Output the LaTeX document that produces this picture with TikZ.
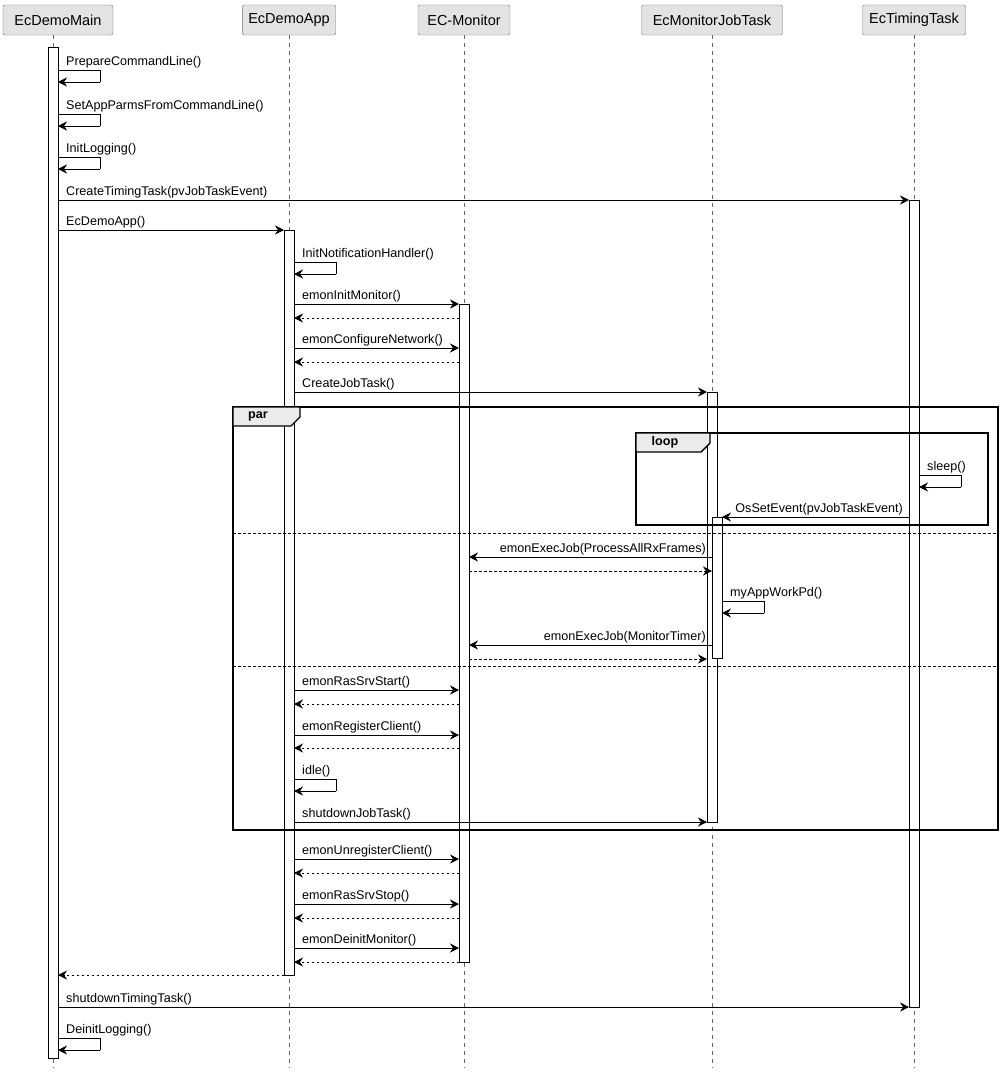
\documentclass[tikz,border=0pt]{standalone}
\usepackage{fontspec}
\setmainfont{Liberation Sans}
\usetikzlibrary{arrows.meta}
\begin{document}
\begin{tikzpicture}[x=1pt,y=-1pt,
  hdr/.style={draw=black!55,fill=black!11,rounded corners=2pt,minimum height=30pt,inner xsep=6pt,font=\fontsize{14.5}{16}\selectfont},
  life/.style={draw=black!60,dash pattern=on 4pt off 4pt,line width=0.6pt},
  bar/.style={draw=black,fill=white,line width=0.7pt},
  msg/.style={-{Stealth[length=9pt,width=9pt,inset=3pt]},line width=0.7pt},
  ret/.style={msg,dash pattern=on 2.5pt off 2.5pt},
  lbl/.style={font=\fontsize{12.6}{14}\selectfont,inner sep=0pt},
  frm/.style={draw=black,line width=1.4pt},
  sep/.style={draw=black,dash pattern=on 2.5pt off 2.5pt,line width=0.6pt}]
\useasboundingbox (0,0) rectangle (1003,1074);
% headers
\node[hdr,minimum width=110pt] (hm) at (58,20) {EcDemoMain};
\node[hdr,minimum width=92pt] (ha) at (289,20) {EcDemoApp};
\node[hdr,minimum width=92pt] (hc) at (464,20) {EC-Monitor};
\node[hdr,minimum width=141pt] (hj) at (712,20) {EcMonitorJobTask};
\node[hdr,minimum width=103pt] (ht) at (914,20) {EcTimingTask};
% lifelines
\foreach \n/\x in {m/53,a/289,c/464,j/712,t/914}{\coordinate (l\n) at (\x,1068); \draw[life] (\x,35) -- (l\n);}
% bars
\draw[bar] (48,47) rectangle (58,1058);
\draw[bar] (284,230) rectangle (294,975);
\draw[bar] (459,304) rectangle (469,962);
\draw[bar] (707,392) rectangle (717,822);
\draw[bar] (712,517) rectangle (722,658);
\draw[bar] (909,200) rectangle (919,1007);
% self messages
\newcommand\selfm[3]{\draw[line width=0.7pt] (#1,#2) -- (#1+42,#2) -- (#1+42,#2+12); \draw[msg] (#1+42,#2+12) -- (#1,#2+12);
  \node[lbl,anchor=base west] at (#1+8,#2-5) {#3};}
\newcommand\rmsg[4]{\draw[msg] (#2,#1) -- (#3,#1); \node[lbl,anchor=base west] at (#2+8,#1-5) {#4};}
\newcommand\lmsg[4]{\draw[msg] (#2,#1) -- (#3,#1); \node[lbl,anchor=base east] at (#2-6,#1-5) {#4};}
\newcommand\rtn[3]{\draw[ret] (#2,#1) -- (#3,#1);}
\selfm{58}{70}{PrepareCommandLine()}
\selfm{58}{114}{SetAppParmsFromCommandLine()}
\selfm{58}{157}{InitLogging()}
\rmsg{200}{58}{909}{CreateTimingTask(pvJobTaskEvent)}
\rmsg{230}{58}{284}{EcDemoApp()}
\selfm{294}{262}{InitNotificationHandler()}
\rmsg{304}{294}{459}{emonInitMonitor()}
\rtn{318}{459}{294}
\rmsg{348}{294}{459}{emonConfigureNetwork()}
\rtn{362}{459}{294}
\rmsg{392}{294}{707}{CreateJobTask()}
% par frame
\draw[frm] (233,407) rectangle (998,830);
\draw[frm,fill=black!8] (233,407) -- (300,407) -- (300,417) -- (291,426) -- (233,426) -- cycle;
\node[lbl,font=\fontsize{12.6}{14}\bfseries] at (258,416) {par};
% loop frame
\draw[frm] (636,433) rectangle (988,525);
\draw[frm,fill=black!8] (636,433) -- (710,433) -- (710,443) -- (701,452) -- (636,452) -- cycle;
\node[lbl,font=\fontsize{12.6}{14}\bfseries] at (665,442) {loop};
\selfm{919}{475}{sleep()}
\lmsg{517}{909}{722}{OsSetEvent(pvJobTaskEvent)}
\draw[sep] (233,533) -- (998,533);
\lmsg{557}{712}{469}{emonExecJob(ProcessAllRxFrames)}
\rtn{571}{469}{712}
\selfm{722}{601}{myAppWorkPd()}
\lmsg{645}{712}{469}{emonExecJob(MonitorTimer)}
\rtn{659}{469}{707}
\draw[sep] (233,666) -- (998,666);
\rmsg{690}{294}{459}{emonRasSrvStart()}
\rtn{704}{459}{294}
\rmsg{735}{294}{459}{emonRegisterClient()}
\rtn{748}{459}{294}
\selfm{294}{779}{idle()}
\rmsg{822}{294}{707}{shutdownJobTask()}
\rmsg{859}{294}{459}{emonUnregisterClient()}
\rtn{873}{459}{294}
\rmsg{904}{294}{459}{emonRasSrvStop()}
\rtn{918}{459}{294}
\rmsg{948}{294}{459}{emonDeinitMonitor()}
\rtn{962}{459}{294}
\rtn{975}{284}{58}
\rmsg{1007}{58}{909}{shutdownTimingTask()}
\selfm{58}{1038}{DeinitLogging()}
\end{tikzpicture}
\end{document}
